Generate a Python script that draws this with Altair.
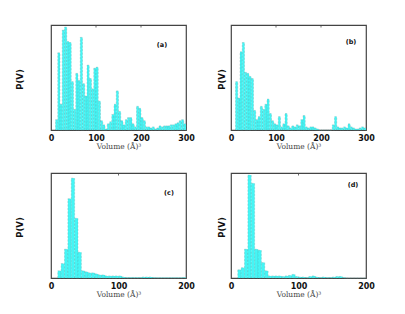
import altair as alt
import pandas as pd

BIN = 5

# panel (a): bin starts 10..295, heights (fraction of panel max)
a_start = list(range(10, 300, 5))
a_h = [0.10, 0.75, 0.25, 0.97, 1.00, 0.86, 0.85, 0.47, 0.20, 0.55,
       0.48, 0.90, 0.45, 0.33, 0.63, 0.50, 0.40, 0.60, 0.61, 0.28,
       0.09, 0.05, 0.01, 0.06, 0.08, 0.15, 0.25, 0.38, 0.18, 0.09,
       0.05, 0.10, 0.12, 0.12, 0.06, 0.03, 0.23, 0.21, 0.12, 0.09,
       0.03, 0.03, 0.02, 0.03, 0.01, 0.02, 0.04, 0.03, 0.04, 0.04,
       0.04, 0.05, 0.05, 0.06, 0.07, 0.09, 0.10, 0.06]

# panel (b)
b_start = list(range(10, 300, 5))
b_h = [0.47, 0.31, 0.76, 0.85, 0.56, 0.55, 0.52, 0.50, 0.19, 0.10,
       0.13, 0.23, 0.20, 0.25, 0.30, 0.16, 0.09, 0.06, 0.05, 0.13,
       0.03, 0.06, 0.16, 0.04, 0.02, 0.04, 0.03, 0.05, 0.04, 0.10,
       0.14, 0.03, 0.02, 0.03, 0.03, 0.02, 0.01, 0.00, 0.00, 0.00,
       0.00, 0.00, 0.00, 0.05, 0.13, 0.03, 0.02, 0.02, 0.03, 0.02,
       0.06, 0.03, 0.02, 0.01, 0.01, 0.02, 0.03, 0.02]

# panel (c)
c_start = list(range(10, 200, 5))
c_h = [0.07, 0.14, 0.28, 0.77, 0.97, 0.58, 0.25, 0.07, 0.06, 0.05,
       0.05, 0.04, 0.03, 0.03, 0.02, 0.02, 0.02, 0.02, 0.02, 0.01,
       0.005, 0.005, 0.005, 0.005, 0.005, 0.01, 0.01, 0.01, 0.005, 0.003,
       0.003, 0.003, 0.003, 0.003, 0.003, 0.003, 0.003, 0.005]

# panel (d)
d_start = list(range(10, 200, 5))
d_h = [0.08, 0.10, 0.28, 1.00, 0.92, 0.28, 0.27, 0.15, 0.07, 0.02,
       0.02, 0.02, 0.02, 0.015, 0.02, 0.025, 0.035, 0.015, 0.01, 0.01,
       0.005, 0.015, 0.02, 0.01, 0.005, 0.01, 0.005, 0.005, 0.01, 0.015,
       0.015, 0.005, 0.0, 0.0, 0.0, 0.0, 0.0, 0.0]

ticks_300 = [0, 100, 200, 300]
ticks_200 = [0, 100, 200]
inner_300 = [100, 200]
inner_200 = [100]

FILL = "#45f5f5"
EDGE = "#5f9a9a"


def panel(starts, heights, xmax, ticks, inner, label, lx, ly, ytx):
    df = pd.DataFrame({"x0": starts,
                       "x1": [s + BIN for s in starts],
                       "p": heights,
                       "z": [0.0] * len(starts)})
    xs = alt.Scale(domain=[0, xmax], nice=False)
    ys = alt.Scale(domain=[0, 1.02], nice=False)
    bars = alt.Chart(df).mark_rect(
        fill=FILL, stroke=EDGE, strokeDash=[2, 1.5], strokeWidth=0.5,
        strokeOpacity=0.6
    ).encode(
        x=alt.X("x0:Q", scale=xs,
                axis=alt.Axis(values=ticks, title="Volume (Å)³", grid=False,
                              domain=False, ticks=False, labelPadding=4,
                              labelFont="DejaVu Sans", labelFontWeight="bold",
                              labelFontSize=8, labelColor="#111",
                              titleFont="DejaVu Serif", titleFontWeight="normal",
                              titleFontSize=7.5, titleColor="#444",
                              titlePadding=0, labelFlush=False)),
        x2="x1:Q",
        y=alt.Y("p:Q", scale=ys,
                axis=alt.Axis(title="P(V)", labels=False, ticks=False,
                              domain=False, grid=False,
                              titleFont="DejaVu Sans", titleFontWeight="bold",
                              titleFontSize=8.5, titleColor="#111",
                              titleX=ytx, titleY=54, titleBaseline="middle")),
        y2="z:Q",
    )
    tk = pd.DataFrame({"t": inner})
    top_ticks = alt.Chart(tk).mark_rule(color="#444", strokeWidth=0.8).encode(
        x=alt.X("t:Q", scale=xs), y=alt.value(0), y2=alt.value(2.5))
    lab = alt.Chart(pd.DataFrame({"l": [label]})).mark_text(
        font="DejaVu Sans", fontWeight="bold", fontSize=6.5, color="#111"
    ).encode(x=alt.value(lx), y=alt.value(ly), text="l:N")
    return alt.layer(bars, top_ticks, lab).properties(width=135, height=105)


pa = panel(a_start, a_h, 300, ticks_300, inner_300, "(a)", 111, 20, -32)
pb = panel(b_start, b_h, 300, ticks_300, inner_300, "(b)", 120, 17, -10)
pc = panel(c_start, c_h, 200, ticks_200, inner_200, "(c)", 118, 20, -32)
pd_ = panel(d_start, d_h, 200, ticks_200, inner_200, "(d)", 122, 12, -10)

top = alt.hconcat(pa, pb, spacing=21)
bot = alt.hconcat(pc, pd_, spacing=21)
chart = alt.vconcat(top, bot, spacing=21).properties(
    padding={"left": 6, "top": 16, "right": 0, "bottom": 0},
    background="white"
).configure_view(stroke="#444", strokeWidth=1.2)

chart.save("out.html", embed_options={"renderer": "svg", "actions": False})
